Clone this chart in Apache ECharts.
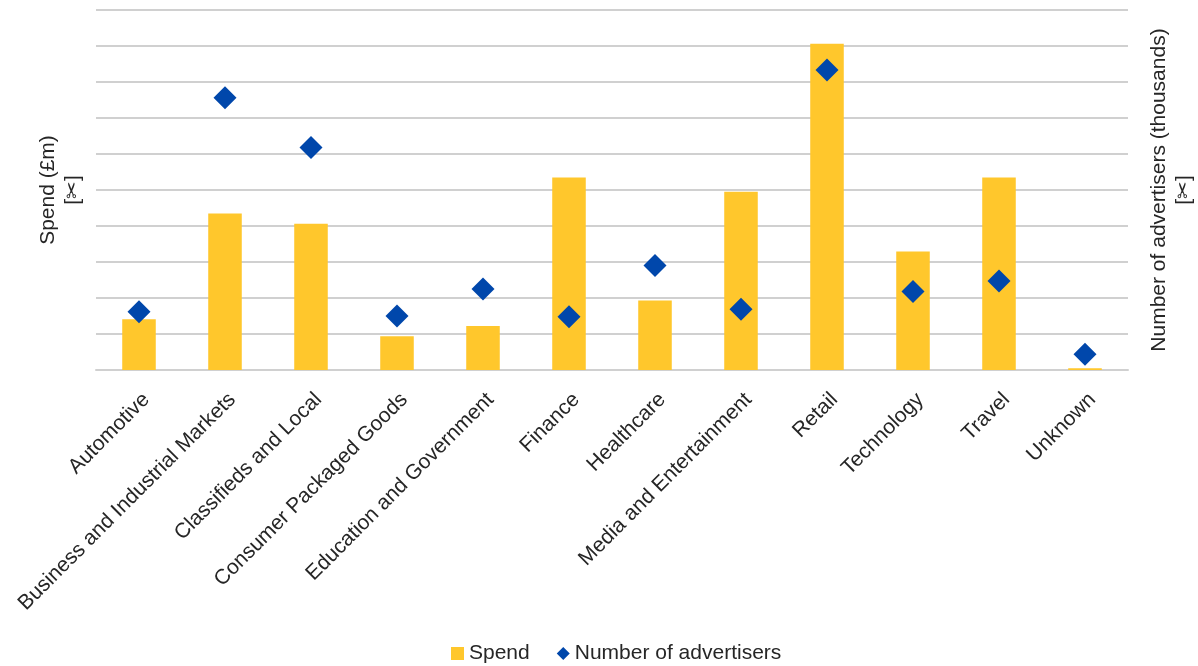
<!DOCTYPE html>
<html>
<head>
<meta charset="utf-8">
<script src="https://cdn.jsdelivr.net/npm/echarts@6/dist/echarts.min.js"></script>
<style>
html,body{margin:0;padding:0;background:#fff;}
#chart{width:1198px;height:666px;}
</style>
</head>
<body>
<div id="chart"></div>
<script>
const categories = ["Automotive","Business and Industrial Markets","Classifieds and Local","Consumer Packaged Goods","Education and Government","Finance","Healthcare","Media and Entertainment","Retail","Technology","Travel","Unknown"];
const spend = [1.41, 4.35, 4.06, 0.94, 1.22, 5.35, 1.93, 4.95, 9.06, 3.29, 5.35, 0.05];
const advertisers = [1.62, 7.56, 6.18, 1.50, 2.25, 1.48, 2.90, 1.69, 8.33, 2.18, 2.47, 0.44];
const FONT = '"Liberation Sans", Arial, sans-serif';
const chart = echarts.init(document.getElementById('chart'));
chart.setOption({
  animation: false,
  textStyle: {fontFamily: FONT},
  grid: {left: 96, right: 70, top: 10, bottom: 296, containLabel: false, outerBoundsMode: 'none'},
  legend: {
    left: 451, top: 643, padding: 0, itemGap: 27, itemWidth: 13, itemHeight: 13,
    textStyle: {fontSize: 21, color: '#262626', fontFamily: FONT},
    data: [{name: 'Spend', icon: 'rect'}, {name: 'Number of advertisers', icon: 'diamond'}]
  },
  xAxis: {
    type: 'category', data: categories,
    axisTick: {show: false},
    axisLine: {lineStyle: {color: '#d0d0d0', width: 2}},
    axisLabel: {interval: 0, rotate: 45, fontSize: 21, color: '#262626', margin: 19,
      align: 'right', verticalAlign: 'top', fontFamily: FONT}
  },
  yAxis: [
    {type: 'value', min: 0, max: 10, interval: 1, position: 'left',
     axisLabel: {show: false}, axisTick: {show: false}, axisLine: {show: false},
     splitLine: {lineStyle: {color: '#d0d0d0', width: 2}},
     name: 'Spend (£m)\n[✂]', nameLocation: 'middle', nameRotate: 90, nameGap: 10,
     nameTextStyle: {fontSize: 21, lineHeight: 25, color: '#262626', fontFamily: FONT}},
    {type: 'value', min: 0, max: 10, interval: 1, position: 'right',
     axisLabel: {show: false}, axisTick: {show: false}, axisLine: {show: false},
     splitLine: {show: false},
     name: 'Number of advertisers (thousands)\n[✂]', nameLocation: 'middle', nameRotate: 90, nameGap: 19,
     nameTextStyle: {fontSize: 21, lineHeight: 25, color: '#262626', fontFamily: FONT}}
  ],
  series: [
    {name: 'Spend', type: 'bar', data: spend, barWidth: '39%', yAxisIndex: 0,
     itemStyle: {color: '#FFC72C'}},
    {name: 'Number of advertisers', type: 'scatter', data: advertisers, yAxisIndex: 1,
     symbol: 'diamond', symbolSize: 23, itemStyle: {color: '#0047AB', opacity: 1}}
  ]
});
</script>
</body>
</html>
